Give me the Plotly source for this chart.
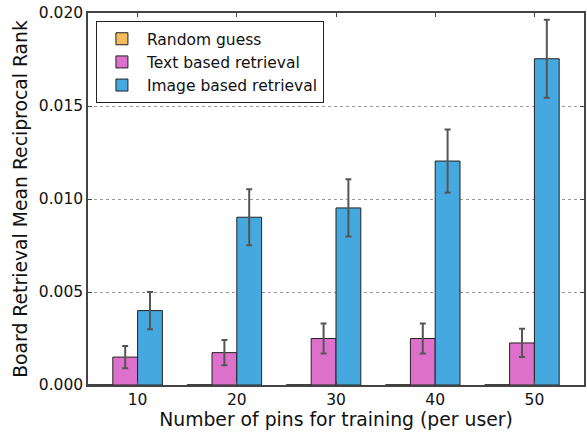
import plotly.graph_objects as go

pins = [10, 20, 30, 40, 50]
tick_labels = ["10", "20", "30", "40", "50"]
random_guess = [0.00001, 0.00001, 0.00001, 0.00001, 0.00001]
text_mrr = [0.0015, 0.00174, 0.0025, 0.0025, 0.00226]
text_err = [0.0006, 0.00068, 0.0008, 0.0008, 0.00076]
image_mrr = [0.0040, 0.00902, 0.00952, 0.01204, 0.01754]
image_err = [0.0010, 0.0015, 0.00154, 0.0017, 0.0021]

err_style = dict(type="data", color="#555555", thickness=2, width=3)

fig = go.Figure()
fig.add_trace(go.Bar(
    x=pins, y=random_guess, name="Random guess", width=2.5, offset=-5,
    marker=dict(color="#F4BC5C", line=dict(color="#222222", width=1)),
))
fig.add_trace(go.Bar(
    x=pins, y=text_mrr, name="Text based retrieval", width=2.5, offset=-2.5,
    marker=dict(color="#DD70CA", line=dict(color="#222222", width=1)),
    error_y=dict(array=text_err, **err_style),
))
fig.add_trace(go.Bar(
    x=pins, y=image_mrr, name="Image based retrieval", width=2.5, offset=0,
    marker=dict(color="#45A9E0", line=dict(color="#222222", width=1)),
    error_y=dict(array=image_err, **err_style),
))

fig.update_layout(
    width=587, height=432,
    barmode="overlay",
    plot_bgcolor="white", paper_bgcolor="white",
    margin=dict(l=88, r=3, t=13, b=47, autoexpand=False),
    font=dict(family="DejaVu Sans", size=15, color="#111111"),
    showlegend=True,
    legend=dict(
        x=0.016, y=0.978, xanchor="left", yanchor="top",
        bgcolor="white", bordercolor="#222222", borderwidth=1,
        font=dict(size=15.5), tracegroupgap=0, itemwidth=40,
        traceorder="normal",
    ),
    xaxis=dict(
        range=[5, 55], tickvals=pins, ticktext=tick_labels,
        showline=True, linecolor="#444444", linewidth=1.5, mirror="ticks",
        ticks="inside", ticklen=4, tickcolor="#444444",
        showgrid=False, zeroline=False,
        title=dict(text="Number of pins for training (per user)", font=dict(size=18.8), standoff=4),
        tickfont=dict(size=15.5),
    ),
    yaxis=dict(
        range=[0, 0.020], tickvals=[0, 0.005, 0.010, 0.015, 0.020],
        ticktext=["0.000", "0.005", "0.010", "0.015", "0.020"],
        showline=True, linecolor="#444444", linewidth=1.5, mirror="ticks",
        ticks="inside", ticklen=4, tickcolor="#444444",
        showgrid=True, gridcolor="#999999", griddash="dot", gridwidth=1,
        zeroline=False,
        title=dict(text="Board Retrieval Mean Reciprocal Rank", font=dict(size=18.8), standoff=6),
        tickfont=dict(size=15.5),
    ),
)

fig.write_html("out.html", config={"displayModeBar": False},
               post_script="document.body.style.margin='0';")
